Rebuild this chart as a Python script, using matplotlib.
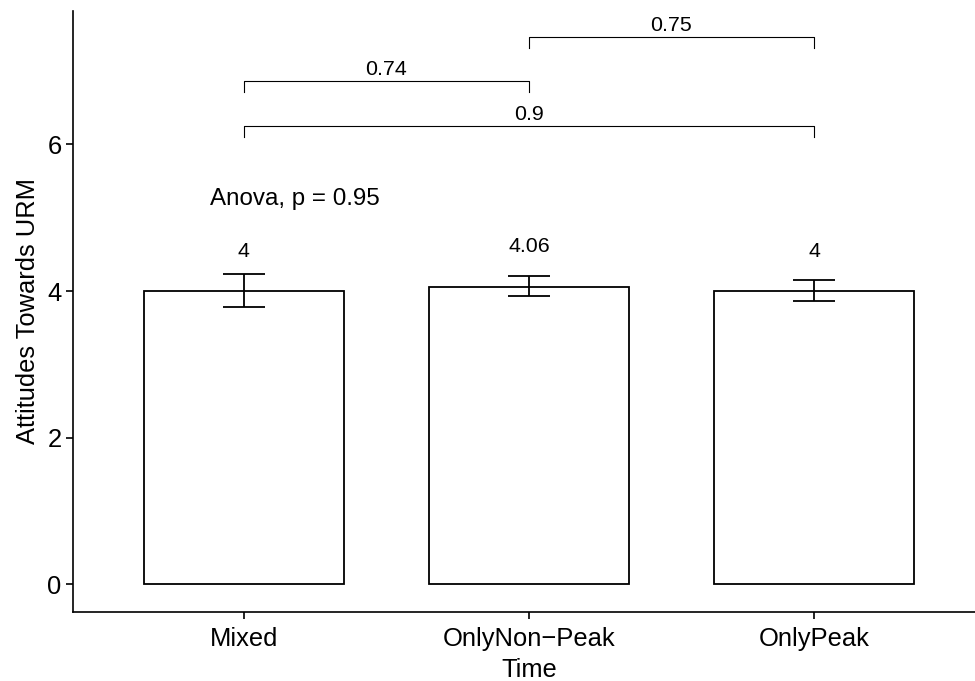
import numpy as np
import matplotlib
matplotlib.use("Agg")
import matplotlib.pyplot as plt

plt.rcParams['font.family'] = ['Liberation Sans', 'DejaVu Sans']

# datos
grupos = ['Mixed', 'OnlyNon\u2212Peak', 'OnlyPeak']
medias = [4.0, 4.06, 4.0]
etiquetas = ['4', '4.06', '4']
err_bajo = [3.787, 3.933, 3.865]
err_alto = [4.233, 4.206, 4.150]

# comparaciones por pares: (grupo i, grupo j, altura, p)
comparaciones = [
    (0, 1, 6.866, '0.74'),
    (0, 2, 6.257, '0.9'),
    (1, 2, 7.467, '0.75'),
]
anova_texto = 'Anova, p = 0.95'

fig = plt.figure(figsize=(9.75, 6.81), dpi=100)
ax = fig.add_axes([0.0746, 0.1018, 0.9357, 0.8825])

x = np.arange(1, len(grupos) + 1)
medias = np.array(medias)
yerr = np.array([medias - np.array(err_bajo), np.array(err_alto) - medias])

ax.bar(x, medias, width=0.70, color='white', edgecolor='black', linewidth=1.3, zorder=2)
ax.errorbar(x, medias, yerr=yerr, fmt='none', ecolor='black', elinewidth=1.3,
            capsize=15, capthick=1.3, zorder=3)

# etiquetas de valor sobre las barras
for xi, m, lab in zip(x, medias, etiquetas):
    ax.text(xi, m + 0.47, lab, ha='center', va='baseline', fontsize=15.4)

# corchetes de comparacion
tip = 0.15
for i, j, h, p in comparaciones:
    x1, x2 = x[i], x[j]
    ax.plot([x1, x1, x2, x2], [h - tip, h, h, h - tip], color='black',
            linewidth=0.8, zorder=3)
    ax.text((x1 + x2) / 2, h + 0.075, p, ha='center', va='baseline', fontsize=15.4)

ax.text(0.88, 5.175, anova_texto, ha='left', va='baseline', fontsize=17.4)

ax.set_xlim(0.4, 3.6)
ax.set_ylim(-0.374, 7.825)
ax.set_xticks(x)
ax.set_xticklabels(grupos)
ax.set_yticks([0, 2, 4, 6])
ax.tick_params(axis='both', labelsize=18.4, colors='black', length=5, width=1.2)
ax.tick_params(axis='x', pad=6)
ax.tick_params(axis='y', pad=3)

ax.set_xlabel('Time', fontsize=18.4, labelpad=5)
ax.set_ylabel('Attitudes Towards URM', fontsize=18.4, labelpad=5)

for lado in ['top', 'right']:
    ax.spines[lado].set_visible(False)
for lado in ['left', 'bottom']:
    ax.spines[lado].set_linewidth(1.2)

fig.savefig('out.png', dpi=100)
